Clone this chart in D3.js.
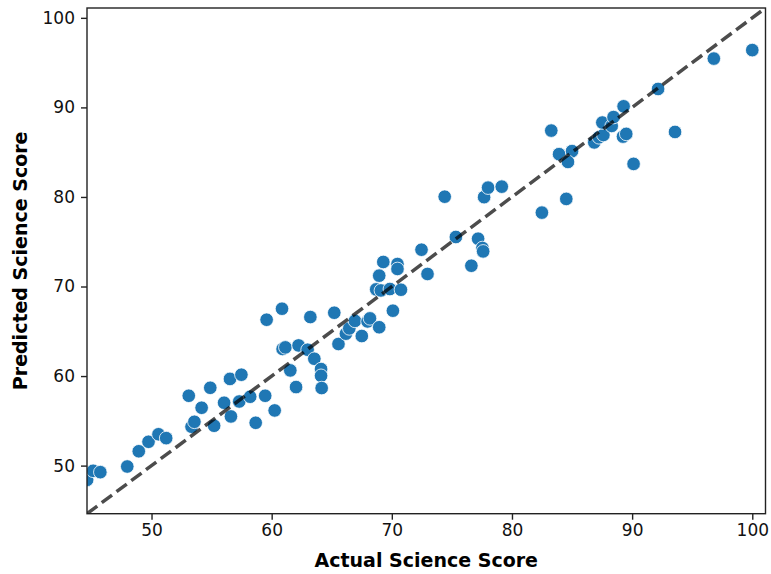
<!DOCTYPE html>
<html>
<head>
<meta charset="utf-8">
<script src="https://cdn.jsdelivr.net/npm/d3@7"></script>
<style>
  body{margin:0;background:#fff;}
  text{font-family:"DejaVu Sans",sans-serif;}
</style>
</head>
<body>
<svg id="chart" width="771" height="574"></svg>
<script>
'use strict';

// actual vs predicted science scores
var actual=[44.64,45.14,45.74,47.98,48.94,49.75,50.58,51.22,53.10,53.33,
  53.57,54.17,54.89,55.21,56.04,56.53,56.61,57.30,57.48,58.21,
  58.67,59.46,60.25,59.58,60.86,60.91,61.14,62.24,62.99,63.22,
  63.55,61.55,64.11,64.11,64.16,62.03,65.21,65.56,66.18,66.46,
  66.93,67.50,67.98,68.18,68.95,68.70,69.09,69.84,70.76,70.09,
  68.95,69.29,70.47,70.47,72.47,72.97,75.33,77.18,77.54,77.60,
  76.62,74.40,77.68,78.01,79.15,82.49,83.27,83.92,85.00,84.66,
  84.52,86.85,87.24,87.61,87.52,88.30,88.45,89.29,89.24,89.51,
  90.12,93.57,92.16,96.80,100.0];
var predicted=[48.41,49.42,49.27,49.90,51.60,52.66,53.50,53.07,57.80,54.34,
  54.89,56.46,58.69,54.45,57.02,59.68,55.49,57.16,60.15,57.69,
  54.78,57.80,56.16,66.29,67.52,63.02,63.20,63.42,62.94,66.59,
  61.93,60.63,60.78,60.03,58.66,58.77,67.07,63.58,64.73,65.32,
  66.16,64.47,66.10,66.44,65.45,69.68,69.56,69.72,69.64,67.30,
  71.21,72.74,72.51,71.96,74.11,71.40,75.53,75.34,74.30,73.92,
  72.32,80.03,79.98,81.04,81.15,78.25,87.41,84.78,85.12,83.91,
  79.78,86.09,86.66,86.92,88.31,87.93,88.92,90.12,86.74,87.04,
  83.69,87.26,92.06,95.45,96.40];
var ticks=[50,60,70,80,90,100];
var lims=[44.63,101.1];

var svg=d3.select('#chart')
  , m={top:8,right:5.5,bottom:60.3,left:87}
  , w=771-m.left-m.right
  , h=574-m.top-m.bottom
  , g=svg.append('g').attr('transform','translate('+m.left+','+m.top+')');

var x=d3.scaleLinear().domain(lims).range([0,w])
  , y=d3.scaleLinear().domain(lims).range([h,0]);

g.append('clipPath').attr('id','clip')
  .append('rect').attr('width',w).attr('height',h);

var pts=actual.map(function(a,i){return [a,predicted[i]];});

g.append('g').attr('clip-path','url(#clip)')
  .selectAll('circle').data(pts).enter().append('circle')
    .attr('cx',function(d){return x(d[0]);})
    .attr('cy',function(d){return y(d[1]);})
    .attr('r',6.8)
    .attr('fill','#1f77b4')
    .attr('stroke','#fff')
    .attr('stroke-width',0.8);

// perfect prediction line
g.append('line')
  .attr('clip-path','url(#clip)')
  .attr('x1',x(lims[0])).attr('y1',y(lims[0]))
  .attr('x2',x(lims[1])).attr('y2',y(lims[1]))
  .attr('stroke','#000').attr('stroke-opacity',0.7)
  .attr('stroke-width',3.5)
  .attr('stroke-dasharray','12.8,5.6');

var xa=g.append('g').attr('transform','translate(0,'+h+')')
  .call(d3.axisBottom(x).tickValues(ticks).tickSize(6).tickPadding(4));
var ya=g.append('g')
  .call(d3.axisLeft(y).tickValues(ticks).tickSize(6).tickPadding(6));

[xa,ya].forEach(function(a){
  a.select('.domain').remove();
  a.selectAll('.tick line').attr('stroke','#222').attr('stroke-width',1.4);
  a.selectAll('.tick text').attr('fill','#111').style('font-size','17px')
    .style('font-family','"DejaVu Sans",sans-serif');
});

// frame
g.append('rect').attr('width',w).attr('height',h)
  .attr('fill','none').attr('stroke','#222').attr('stroke-width',1.4);

svg.append('text')
  .attr('x',m.left+w/2).attr('y',567)
  .attr('text-anchor','middle')
  .style('font-size','19px').style('font-weight','bold')
  .text('Actual Science Score');

svg.append('text')
  .attr('transform','translate(27,'+(m.top+h/2)+') rotate(-90)')
  .attr('text-anchor','middle')
  .style('font-size','19px').style('font-weight','bold')
  .text('Predicted Science Score');
</script>
</body>
</html>
